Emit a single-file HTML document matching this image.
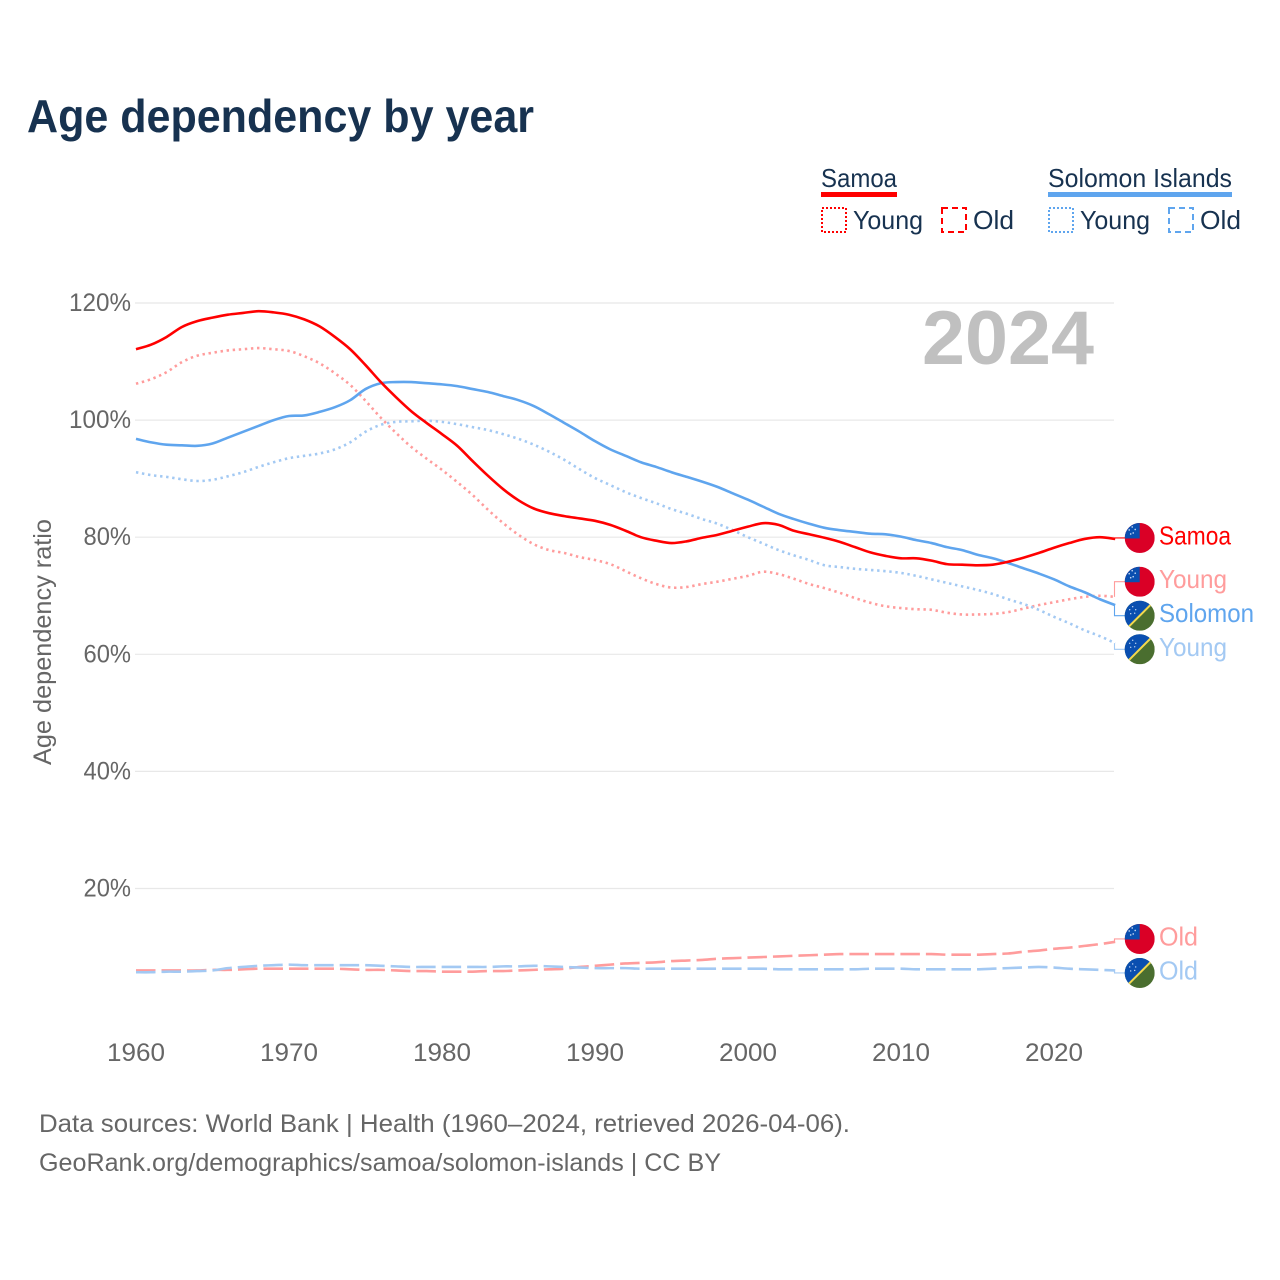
<!DOCTYPE html>
<html lang="en">
<head>
<meta charset="utf-8">
<title>Age dependency by year</title>
<style>
html,body{margin:0;padding:0;background:#fff}
svg{display:block}
text{font-family:"Liberation Sans",sans-serif}
</style>
</head>
<body>
<svg id="chart" xmlns="http://www.w3.org/2000/svg" width="1280" height="1280" viewBox="0 0 1280 1280">
  <rect x="0" y="0" width="1280" height="1280" fill="#fff"/>
  <text x="27" y="132" font-size="46" font-weight="700" fill="#173250" textLength="507" lengthAdjust="spacingAndGlyphs">Age dependency by year</text>

  <g fill="#173250" font-size="26">
    <text x="821" y="187" textLength="76" lengthAdjust="spacingAndGlyphs">Samoa</text>
    <rect x="821" y="192" width="76" height="5" fill="#ff0000"/>
    <rect x="822" y="208" width="24" height="24" fill="none" stroke="#ff0000" stroke-width="2" stroke-dasharray="2 2"/>
    <text x="853" y="229" textLength="70" lengthAdjust="spacingAndGlyphs">Young</text>
    <rect x="942" y="208" width="24" height="24" fill="none" stroke="#ff0000" stroke-width="2" stroke-dasharray="6 4"/>
    <text x="973" y="229" textLength="41" lengthAdjust="spacingAndGlyphs">Old</text>
    <text x="1048" y="187" textLength="184" lengthAdjust="spacingAndGlyphs">Solomon Islands</text>
    <rect x="1048" y="192" width="184" height="5" fill="#5fa5ee"/>
    <rect x="1049" y="208" width="24" height="24" fill="none" stroke="#5fa5ee" stroke-width="2" stroke-dasharray="2 2"/>
    <text x="1080" y="229" textLength="70" lengthAdjust="spacingAndGlyphs">Young</text>
    <rect x="1169" y="208" width="24" height="24" fill="none" stroke="#5fa5ee" stroke-width="2" stroke-dasharray="6 4"/>
    <text x="1200" y="229" textLength="41" lengthAdjust="spacingAndGlyphs">Old</text>
  </g>

  <g id="grid"></g>
  <g id="yticks"></g>
  <g id="xticks"></g>

  <text x="922" y="364" font-size="76" font-weight="700" fill="#c0c0c0" textLength="172" lengthAdjust="spacingAndGlyphs">2024</text>
  <text transform="translate(51,642) rotate(-90)" text-anchor="middle" font-size="25" fill="#666666" textLength="246" lengthAdjust="spacingAndGlyphs">Age dependency ratio</text>

  <g id="series"></g>
  <g id="ends"></g>

  <text x="39" y="1132" font-size="25" fill="#666666" textLength="811" lengthAdjust="spacingAndGlyphs">Data sources: World Bank | Health (1960–2024, retrieved 2026-04-06).</text>
  <text x="39" y="1171" font-size="25" fill="#666666" textLength="682" lengthAdjust="spacingAndGlyphs">GeoRank.org/demographics/samoa/solomon-islands | CC BY</text>
</svg>
<script>
const startYear = 1960;
const xTickYears = [1960, 1970, 1980, 1990, 2000, 2010, 2020];
const yTickValues = [20, 40, 60, 80, 100, 120];

const samoaTotal = [112.1,112.9,114.2,115.9,116.9,117.5,118.0,118.3,118.6,118.4,118.0,117.2,116.0,114.2,112.1,109.4,106.5,103.9,101.5,99.5,97.6,95.6,93.0,90.5,88.2,86.3,84.9,84.1,83.6,83.2,82.8,82.1,81.1,80.0,79.4,79.0,79.3,79.9,80.4,81.1,81.8,82.4,82.1,81.1,80.5,79.9,79.2,78.3,77.4,76.8,76.4,76.4,76.0,75.4,75.3,75.2,75.3,75.8,76.5,77.3,78.2,79.0,79.7,80.0,79.7];
const samoaYoung = [106.2,107.0,108.2,109.9,111.0,111.5,111.9,112.1,112.3,112.1,111.8,110.9,109.7,108.0,106.0,103.3,100.4,97.8,95.4,93.4,91.5,89.4,87.2,84.7,82.4,80.4,78.8,77.8,77.3,76.6,76.1,75.4,74.2,73.0,72.0,71.4,71.5,72.0,72.4,72.9,73.4,74.1,73.7,72.9,72.0,71.3,70.5,69.6,68.8,68.2,67.9,67.7,67.6,67.1,66.8,66.8,66.9,67.2,67.8,68.4,68.9,69.4,69.8,70.0,69.8];
const samoaOld = [6.0,6.0,6.0,6.0,6.0,6.1,6.1,6.2,6.3,6.3,6.3,6.3,6.3,6.3,6.2,6.1,6.1,6.0,5.9,5.9,5.8,5.8,5.8,5.9,5.9,6.0,6.1,6.2,6.3,6.6,6.8,7.0,7.2,7.3,7.4,7.6,7.7,7.8,8.0,8.1,8.2,8.3,8.4,8.5,8.6,8.7,8.8,8.8,8.8,8.8,8.8,8.8,8.8,8.7,8.7,8.7,8.8,8.9,9.2,9.4,9.7,9.9,10.2,10.5,10.9];
const solomonTotal = [96.8,96.2,95.8,95.7,95.6,96.0,97.0,98.0,99.0,100.0,100.7,100.8,101.4,102.2,103.4,105.3,106.3,106.5,106.5,106.3,106.1,105.8,105.3,104.8,104.1,103.4,102.4,101.0,99.5,98.0,96.4,95.0,93.9,92.8,92.0,91.1,90.3,89.5,88.6,87.5,86.4,85.2,84.0,83.1,82.3,81.6,81.2,80.9,80.6,80.5,80.1,79.5,79.0,78.3,77.8,77.0,76.4,75.6,74.7,73.8,72.8,71.6,70.6,69.4,68.4];
const solomonYoung = [91.1,90.6,90.3,89.9,89.6,89.8,90.4,91.1,92.0,92.8,93.5,93.9,94.3,95.0,96.2,98.0,99.2,99.7,99.8,99.9,99.7,99.3,98.8,98.3,97.6,96.8,95.8,94.6,93.2,91.6,90.1,88.9,87.7,86.7,85.8,84.8,84.0,83.1,82.3,81.2,80.0,78.9,77.8,76.9,76.1,75.2,74.9,74.6,74.4,74.2,73.9,73.4,72.8,72.2,71.6,71.0,70.3,69.4,68.6,67.6,66.4,65.3,64.1,63.1,61.9];
const solomonOld = [5.7,5.7,5.8,5.8,5.9,6.0,6.4,6.6,6.8,6.9,7.0,6.9,6.9,6.9,6.9,6.9,6.8,6.7,6.6,6.6,6.6,6.6,6.6,6.6,6.7,6.7,6.8,6.7,6.6,6.5,6.4,6.4,6.4,6.3,6.3,6.3,6.3,6.3,6.3,6.3,6.3,6.3,6.2,6.2,6.2,6.2,6.2,6.2,6.3,6.3,6.3,6.2,6.2,6.2,6.2,6.2,6.3,6.4,6.5,6.6,6.5,6.3,6.2,6.1,6.0];

const NS = 'http://www.w3.org/2000/svg';
const xScale = function (year) { return 136 + (year - 1960) * 15.3; };
const yScale = function (v) { return 1005.6 - v * 5.855; };
function make(tag, attrs, parent) {
  const el = document.createElementNS(NS, tag);
  for (const k in attrs) el.setAttribute(k, attrs[k]);
  parent.appendChild(el);
  return el;
}
function smoothPath(points) {
  let d = 'M' + points[0][0].toFixed(2) + ' ' + points[0][1].toFixed(2);
  for (let i = 0; i < points.length - 1; i++) {
    const p0 = points[Math.max(i - 1, 0)];
    const p1 = points[i];
    const p2 = points[i + 1];
    const p3 = points[Math.min(i + 2, points.length - 1)];
    const c1x = p1[0] + (p2[0] - p0[0]) / 6;
    const c1y = p1[1] + (p2[1] - p0[1]) / 6;
    const c2x = p2[0] - (p3[0] - p1[0]) / 6;
    const c2y = p2[1] - (p3[1] - p1[1]) / 6;
    d += 'C' + c1x.toFixed(2) + ' ' + c1y.toFixed(2) + ' ' + c2x.toFixed(2) + ' ' + c2y.toFixed(2) + ' ' + p2[0].toFixed(2) + ' ' + p2[1].toFixed(2);
  }
  return d;
}

const gridG = document.getElementById('grid');
const yG = document.getElementById('yticks');
const xG = document.getElementById('xticks');

yTickValues.forEach(function (v) {
  const line = make('line', {x1: 135, x2: 1114, y1: yScale(v), y2: yScale(v), stroke: '#e8e8e8', 'stroke-width': 1.2}, gridG);
  
  
  const label = v + '%';
  const t = make('text', {x: 131, y: yScale(v) + 8, 'text-anchor': 'end', 'font-size': 25, fill: '#666666', textLength: (label.length - 1) * 14.5 + 18.5, lengthAdjust: 'spacingAndGlyphs'}, yG);
  t.textContent = label;
  
  
});

xTickYears.forEach(function (yr) {
  const t = make('text', {x: xScale(yr), y: 1061, 'text-anchor': 'middle', 'font-size': 25, fill: '#666666', textLength: 58, lengthAdjust: 'spacingAndGlyphs'}, xG);
  t.textContent = String(yr);
  
  
});

const seriesDefs = [
  {id: 'samoa-old', values: samoaOld, color: '#ff9c9c', dash: '19.5 6', label: 'Old', country: 'samoa', shift: -2.8, w: 39},
  {id: 'solomon-old', values: solomonOld, color: '#a3c9f3', dash: '19.5 6', label: 'Old', country: 'solomon', shift: 2.5, w: 39},
  {id: 'samoa-young', values: samoaYoung, color: '#ff9c9c', dash: '2.4 3.7', label: 'Young', country: 'samoa', shift: -15.2, w: 68},
  {id: 'solomon-young', values: solomonYoung, color: '#a3c9f3', dash: '2.4 3.7', label: 'Young', country: 'solomon', shift: 6.1, w: 68},
  {id: 'solomon-total', values: solomonTotal, color: '#5fa5ee', dash: '', label: 'Solomon', country: 'solomon', shift: 10.6, w: 95},
  {id: 'samoa-total', values: samoaTotal, color: '#ff0000', dash: '', label: 'Samoa', country: 'samoa', shift: -1, w: 72}
];

const seriesG = document.getElementById('series');
const endsG = document.getElementById('ends');

function drawFlag(country, cy, parent, idx) {
  const cx = 1139.7;
  const clipId = 'flag-clip-' + idx;
  const clip = make('clipPath', {id: clipId}, parent);
  make('circle', {cx: cx, cy: cy, r: 15}, clip);
  const g = make('g', {'clip-path': 'url(#' + clipId + ')'}, parent);
  if (country === 'samoa') {
    
    
    make('rect', {x: cx - 15, y: cy - 15, width: 30, height: 30, fill: '#da0026'}, g);
    make('rect', {x: cx - 15, y: cy - 15.5, width: 15, height: 16, fill: '#0a4fb0'}, g);
    [[-7.5, -11], [-10.5, -8], [-4.5, -8.5], [-6.5, -5], [-9, -4]].forEach(function (p) {
      make('circle', {cx: cx + p[0], cy: cy + p[1], r: 0.8, fill: '#c9dbf5'}, g);
    });
  } else {
    
    
    make('rect', {x: cx - 15, y: cy - 15, width: 30, height: 30, fill: '#4a6e2f'}, g);
    make('polygon', {points: (cx - 16) + ',' + (cy - 16) + ' ' + (cx + 16) + ',' + (cy - 16) + ' ' + (cx - 16) + ',' + (cy + 16), fill: '#0a4fb0'}, g);
    make('line', {x1: cx - 14, y1: cy + 14, x2: cx + 14, y2: cy - 14, stroke: '#f3d94e', 'stroke-width': 2}, g);
    [[-7, -9], [-10, -6], [-4, -6], [-9, -2], [-5, -2.5]].forEach(function (p) {
      make('circle', {cx: cx + p[0], cy: cy + p[1], r: 0.7, fill: '#c9dbf5'}, g);
    });
  }
}

seriesDefs.forEach(function (s, idx) {
  const pts = s.values.map(function (v, i) { return [xScale(startYear + i), yScale(v)]; });
  const path = make('path', {d: smoothPath(pts), fill: 'none', stroke: s.color, 'stroke-width': 2.6, 'stroke-linejoin': 'round'}, seriesG);
  if (s.dash) path.setAttribute('stroke-dasharray', s.dash);
  
  

  const endVal = s.values[s.values.length - 1];
  const endY = yScale(endVal);
  const labelY = endY + s.shift;
  const conn = make('path', {d: 'M1114.5 ' + endY.toFixed(2) + ' V' + labelY.toFixed(2) + ' H1125', fill: 'none', stroke: s.color, 'stroke-width': 1.1}, endsG);
  
  

  drawFlag(s.country, labelY, endsG, idx);

  const t = make('text', {x: 1159, y: labelY + 6.5, 'font-size': 26, fill: s.color, textLength: s.w, lengthAdjust: 'spacingAndGlyphs'}, endsG);
  t.textContent = s.label;
  
  
});
</script>
</body>
</html>
